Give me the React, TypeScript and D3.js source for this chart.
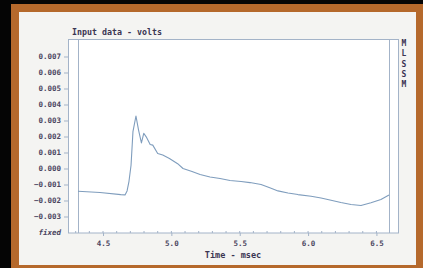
import React, { useEffect, useRef } from 'react';
import * as d3 from 'd3';

// Trace (time in msec, value in volts)
const timeMs = [
  4.317, 4.478, 4.63, 4.661, 4.676, 4.69, 4.705, 4.719, 4.741, 4.76, 4.781,
  4.798, 4.816, 4.845, 4.864, 4.9, 4.937, 4.986, 5.046, 5.085, 5.151, 5.21,
  5.283, 5.356, 5.429, 5.51, 5.575, 5.656, 5.72, 5.78, 5.853, 5.926, 6.022,
  6.095, 6.168, 6.24, 6.314, 6.387, 6.46, 6.533, 6.592,
];
const volts = [
  -0.00142, -0.0015, -0.00163, -0.00165, -0.0014, -0.0008, 0.0002, 0.0023,
  0.00328, 0.0024, 0.0016, 0.0022, 0.00198, 0.0015, 0.00146, 0.00094, 0.00084,
  0.00063, 0.0003, 0.0, -0.00019, -0.00038, -0.00053, -0.00063, -0.00075,
  -0.00081, -0.00088, -0.001, -0.0012, -0.0014, -0.00153, -0.00163, -0.00173,
  -0.00184, -0.00198, -0.00213, -0.00225, -0.00231, -0.00214, -0.00194,
  -0.00166,
];

const yTicks = [0.007, 0.006, 0.005, 0.004, 0.003, 0.002, 0.001, 0, -0.001, -0.002, -0.003];
const xTicks = [4.5, 5.0, 5.5, 6.0, 6.5];
const legendLetters = ['M', 'L', 'S', 'S', 'M'];

const W = 423;
const H = 268;
const FONT = '"DejaVu Sans Mono", monospace';
const TEXT = '#3b3552';
const AXIS = '#a3b3c8';
const LINE = '#7f9dbd';

export default function App() {
  const svgRef = useRef<SVGSVGElement | null>(null);

  useEffect(() => {
    if (!svgRef.current) return;
    const svg = d3.select(svgRef.current);
    svg.selectAll('*').remove();

    // frame
    svg.append('rect').attr('width', W).attr('height', H).attr('fill', '#050505');
    svg.append('rect').attr('x', 11).attr('y', 4).attr('width', W - 11).attr('height', H - 4).attr('fill', '#b5692c');
    svg.append('rect').attr('x', 19).attr('y', 12).attr('width', 397).attr('height', 253).attr('fill', '#f4f4f2');

    const x = d3.scaleLinear().domain([4.317, 6.592]).range([78, 389]);
    const y = d3.scaleLinear().domain([-0.004, 0.007]).range([232.5, 56.5]);

    // plot boxes
    svg.append('rect').attr('x', 68.5).attr('y', 39.5).attr('width', 330).attr('height', 193.5)
      .attr('fill', '#ffffff').attr('stroke', AXIS).attr('stroke-width', 1);
    [78.5, 389.5].forEach(px => {
      svg.append('line').attr('x1', px).attr('x2', px).attr('y1', 39.5).attr('y2', 233)
        .attr('stroke', AXIS).attr('stroke-width', 1);
    });

    // title
    svg.append('text').attr('x', 72).attr('y', 35).attr('fill', TEXT)
      .attr('font-family', FONT).attr('font-size', 8.3).attr('font-weight', 'bold')
      .text('Input data - volts');

    // y axis
    const yAxis = svg.append('g').attr('transform', 'translate(68,0)')
      .call(d3.axisLeft(y).tickValues(yTicks).tickSize(4).tickPadding(3)
        .tickFormat(d => d3.format('.3f')(+d === 0 ? 0 : +d)));
    yAxis.select('.domain').remove();
    yAxis.selectAll('line').attr('stroke', AXIS);
    yAxis.selectAll('text').attr('fill', '#4a4560').attr('font-family', FONT)
      .attr('font-size', 7.5).attr('font-weight', 'bold');
    svg.append('text').attr('x', 61).attr('y', y(-0.004)).attr('dy', '0.32em')
      .attr('text-anchor', 'end').attr('fill', '#4a4560').attr('font-family', FONT)
      .attr('font-size', 7.5).attr('font-weight', 'bold').attr('font-style', 'italic').text('fixed');

    // x axis minor ticks
    const minor = d3.range(43, 66).map(v => v / 10);
    svg.append('g').selectAll('line').data(minor).enter().append('line')
      .attr('x1', d => x(d)).attr('x2', d => x(d)).attr('y1', 231).attr('y2', 233)
      .attr('stroke', AXIS);

    const xAxis = svg.append('g').attr('transform', 'translate(0,233)')
      .call(d3.axisBottom(x).tickValues(xTicks).tickSize(3).tickPadding(5)
        .tickFormat(d3.format('.1f')));
    xAxis.select('.domain').remove();
    xAxis.selectAll('line').attr('stroke', AXIS);
    xAxis.selectAll('text').attr('fill', '#4a4560').attr('font-family', FONT)
      .attr('font-size', 7.5).attr('font-weight', 'bold');

    svg.append('text').attr('x', 233).attr('y', 258).attr('text-anchor', 'middle')
      .attr('fill', TEXT).attr('font-family', FONT).attr('font-size', 8.5)
      .attr('font-weight', 'bold').text('Time - msec');

    // legend strip letters
    svg.append('g').selectAll('text').data(legendLetters).enter().append('text')
      .attr('x', 404).attr('y', (d, i) => 46 + i * 10.3).attr('text-anchor', 'middle')
      .attr('fill', TEXT).attr('font-family', FONT).attr('font-size', 8).attr('font-weight', 'bold')
      .text(d => d);

    // trace
    const pts = timeMs.map((t, i) => [t, volts[i]] as [number, number]);
    const line = d3.line<[number, number]>().x(d => x(d[0])).y(d => y(d[1]));
    svg.append('path').attr('d', line(pts) || '').attr('fill', 'none')
      .attr('stroke', LINE).attr('stroke-width', 1.1).attr('stroke-linejoin', 'round');
  }, []);

  return (
    <div style={{ position: 'fixed', left: 0, top: 0 }}>
      <svg ref={svgRef} width={W} height={H} style={{ display: 'block' }} />
    </div>
  );
}
